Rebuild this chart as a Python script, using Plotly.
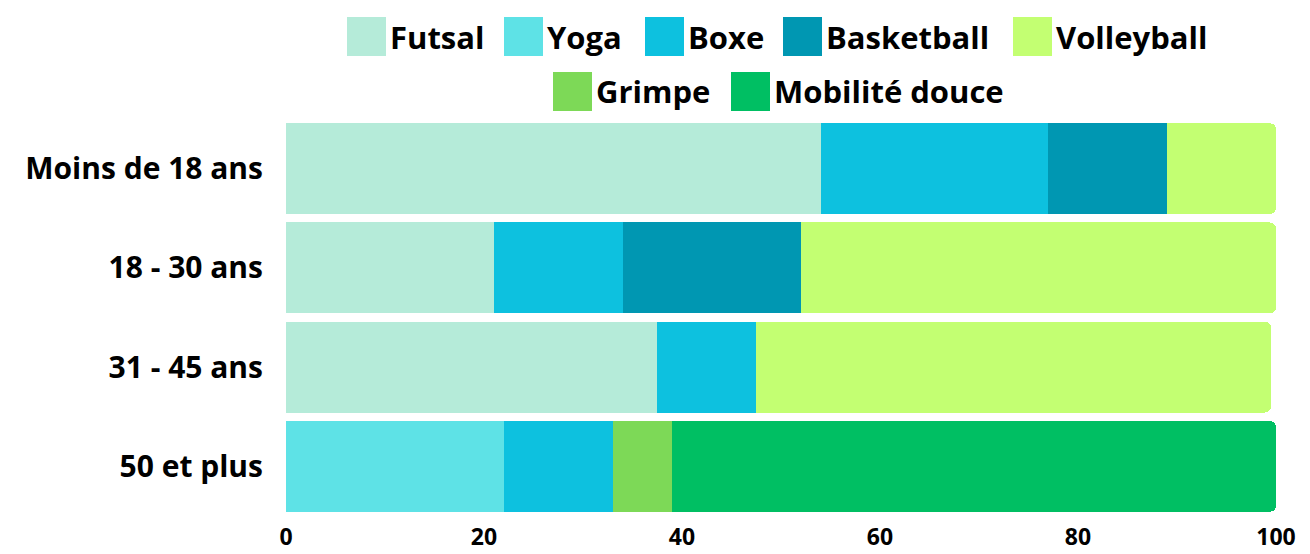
import plotly.graph_objects as go

categories = ["Moins de 18 ans", "18 - 30 ans", "31 - 45 ans", "50 et plus"]
sports = ["Futsal", "Yoga", "Boxe", "Basketball", "Volleyball", "Grimpe", "Mobilité douce"]
colors = ["#b5ebd9", "#5ee2e6", "#0dc1df", "#0097b2", "#c3ff72", "#7dd957", "#00bf63"]

futsal = [54, 21, 37.5, None]
yoga = [None, None, None, 22]
boxe = [23, 13, 10, 11]
basketball = [12, 18, None, None]
volleyball = [11, 48, 52, None]
grimpe = [None, None, None, 6]
mobilite = [None, None, None, 61]
series = [futsal, yoga, boxe, basketball, volleyball, grimpe, mobilite]

x_ticks = [0, 20, 40, 60, 80, 100]

FONT = "Open Sans"

fig = go.Figure()
for name, vals, col in zip(sports, series, colors):
    fig.add_trace(go.Bar(
        y=categories, x=vals, name=name, orientation="h",
        marker=dict(color=col, line=dict(width=0)),
        showlegend=False,
    ))

# page has an 8px body margin; work in figure pixels
OFF = 8
W, H = 1302, 546
ml, mr, mt, mb = 278, 34, 111, 38
pw, ph = W - ml - mr, H - mt - mb


def px2x(px):
    return (px - OFF - ml) / pw


def py2y(py):
    return (H - mb - (py - OFF)) / ph


# manual legend with large square swatches (screen px positions)
legend_items = [
    (0, 347, 17), (1, 504, 17), (2, 645, 17), (3, 783, 17), (4, 1013, 17),
    (5, 553, 72), (6, 731, 72),
]
sw = 39
shapes = []
annotations = []
for idx, lx, ty in legend_items:
    shapes.append(dict(type="rect", xref="paper", yref="paper",
                       x0=px2x(lx), x1=px2x(lx + sw), y0=py2y(ty + sw), y1=py2y(ty),
                       fillcolor=colors[idx], line=dict(width=0), layer="above"))
    annotations.append(dict(xref="paper", yref="paper", x=px2x(lx + sw + 2), y=py2y(ty + sw / 2),
                            text="<b>" + sports[idx] + "</b>", showarrow=False,
                            xanchor="left", yanchor="middle",
                            font=dict(family=FONT, size=31, color="#000000")))

fig.update_layout(
    barmode="stack",
    bargap=0.085,
    barcornerradius=6,
    width=W, height=H,
    margin=dict(l=ml, r=mr, t=mt, b=mb, autoexpand=False),
    paper_bgcolor="white", plot_bgcolor="white",
    font=dict(family=FONT, color="#000000"),
    shapes=shapes,
    annotations=annotations,
    xaxis=dict(range=[0, 100], tickvals=x_ticks, ticktext=["<b>%d</b>" % t for t in x_ticks],
               showgrid=False, zeroline=False, showline=False,
               tickfont=dict(family=FONT, size=23, color="#000000"), ticklabelstandoff=5,
               fixedrange=True),
    yaxis=dict(categoryorder="array", categoryarray=categories, autorange="reversed",
               tickvals=categories, ticktext=["<b>%s</b>" % c for c in categories],
               showgrid=False, zeroline=False, showline=False,
               tickfont=dict(family=FONT, size=30, color="#000000"), ticklabelstandoff=22),
)

fig.write_html("out.html")
